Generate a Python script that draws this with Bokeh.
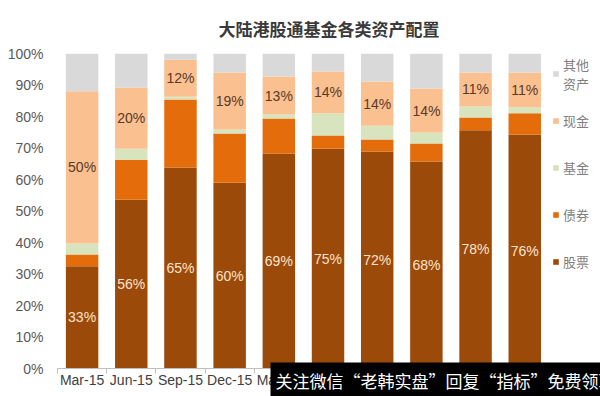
import numpy as np
from bokeh.plotting import figure
from bokeh.core.properties import value
from bokeh.models import (ColumnDataSource, FixedTicker, Legend, LegendItem, Title,
                          LabelSet, Range1d, PrintfTickFormatter)
from bokeh.embed import file_html
from bokeh.resources import INLINE

# ---- data (percent of fund assets) ----
months = ["Mar-15", "Jun-15", "Sep-15", "Dec-15", "Mar-16",
          "Jun-16", "Sep-16", "Dec-16", "Mar-17", "Jun-17"]
stock = [32.5, 53.6, 63.8, 59.0, 68.2, 69.8, 68.9, 65.7, 75.6, 74.3]
bond = [3.7, 12.7, 21.6, 15.6, 11.2, 4.2, 3.8, 5.7, 4.1, 6.7]
fund = [3.5, 3.5, 0.9, 1.3, 1.2, 7.0, 4.4, 3.5, 3.5, 1.9]
cash = [48.3, 19.4, 11.7, 18.1, 12.1, 13.3, 14.0, 14.0, 10.8, 11.1]
other = [12.0, 10.8, 2.0, 6.0, 7.3, 5.7, 8.9, 11.1, 6.0, 6.0]
stock_labels = ["33%", "56%", "65%", "60%", "69%", "75%", "72%", "68%", "78%", "76%"]
cash_labels = ["50%", "20%", "12%", "19%", "13%", "14%", "14%", "14%", "11%", "11%"]
series_names = ["股票", "债券", "基金", "现金", "其他\n资产"]
y_ticks = [0, 10, 20, 30, 40, 50, 60, 70, 80, 90, 100]
title_text = "大陆港股通基金各类资产配置"
watermark = "关注微信“老韩实盘”回复“指标”免费领取"

colors = ["#9c4a0a", "#e46c0a", "#d7e4bd", "#fac090", "#d9d9d9"]

n = len(months)
xpos = np.arange(n) + 0.5
st = np.array(stock)
bo = np.array(bond)
fu = np.array(fund)
ca = np.array(cash)

src = ColumnDataSource(dict(
    x=xpos, stock=stock, bond=bond, fund=fund, cash=cash, other=other,
    stock_y=st / 2, cash_y=st + bo + fu + ca / 2,
    stock_lab=stock_labels, cash_lab=cash_labels,
))

# the frame also covers the legend strip on the right (extra 1.04 category widths)
p = figure(width=600, height=396, output_backend="svg", toolbar_location=None,
           x_range=Range1d(0, n + 1.04), y_range=Range1d(0, 100),
           min_border_left=57, min_border_right=0, min_border_top=53,
           min_border_bottom=28)
p.outline_line_color = None
p.xgrid.grid_line_color = None
p.ygrid.grid_line_color = None
p.background_fill_color = "white"

rs = p.vbar_stack(["stock", "bond", "fund", "cash", "other"], x="x", width=0.66,
                  color=colors, line_color=None, source=src)

# value labels
p.add_layout(LabelSet(x="x", y="stock_y", text="stock_lab", source=src,
                      text_align="center", text_baseline="middle",
                      text_font=value("Liberation Sans"), text_font_size="14px",
                      text_color="#fbe3cc"))
p.add_layout(LabelSet(x="x", y="cash_y", text="cash_lab", source=src,
                      text_align="center", text_baseline="middle",
                      text_font=value("Liberation Sans"), text_font_size="14px",
                      text_color="#5a3a28"))

# axes
xa = p.xaxis[0]
xa.axis_label = None
xa.bounds = (0, n)
xa.ticker = FixedTicker(ticks=list(xpos), minor_ticks=list(range(n + 1)))
xa.major_label_overrides = {float(x): m for x, m in zip(xpos, months)}
xa.major_tick_line_color = None
xa.major_tick_out = 0
xa.major_tick_in = 0
xa.minor_tick_out = 5
xa.minor_tick_in = 0
xa.minor_tick_line_color = "#bfbfbf"
xa.axis_line_color = "#bfbfbf"
xa.major_label_standoff = -2
xa.major_label_text_font = "Liberation Sans"
xa.major_label_text_font_size = "14px"
xa.major_label_text_color = "#404040"

ya = p.yaxis[0]
ya.axis_label = None
ya.ticker = FixedTicker(ticks=y_ticks)
ya.formatter = PrintfTickFormatter(format="%d%%")
ya.axis_line_color = None
ya.major_tick_line_color = None
ya.minor_tick_line_color = None
ya.major_tick_out = 0
ya.major_tick_in = 0
ya.major_label_standoff = 14
ya.major_label_text_font = "Liberation Sans"
ya.major_label_text_font_size = "14px"
ya.major_label_text_color = "#595959"

# title
p.title.text = title_text
p.title.align = "center"
p.title.offset = 4
p.title.standoff = 26
p.title.text_font = "Noto Sans CJK SC"
p.title.text_font_size = "17px"
p.title.text_font_style = "bold"
p.title.text_color = "#3a3a3a"

# legend (top to bottom: other, cash, fund, bond, stock)
items = [LegendItem(label=series_names[i], renderers=[rs[i]]) for i in [4, 3, 2, 1, 0]]
legend = Legend(items=items, location=(495, 86), orientation="vertical",
                glyph_width=7, glyph_height=7, label_height=41, spacing=6,
                padding=2, margin=0, label_standoff=4,
                label_text_font="Noto Sans CJK SC", label_text_font_size="13px",
                label_text_color="#7f7f7f", border_line_color=None,
                background_fill_alpha=0)
p.add_layout(legend)

# watermark banner (overlay text at the bottom of the picture)
wm = Title(text=watermark, align="left", vertical_align="top", offset=213,
           standoff=-56, text_font="Noto Sans CJK SC", text_font_size="17px",
           text_font_style="normal", text_color="white",
           background_fill_color="black", padding=5)
p.add_layout(wm, "below")

open("out.html", "w").write(file_html(p, INLINE))
